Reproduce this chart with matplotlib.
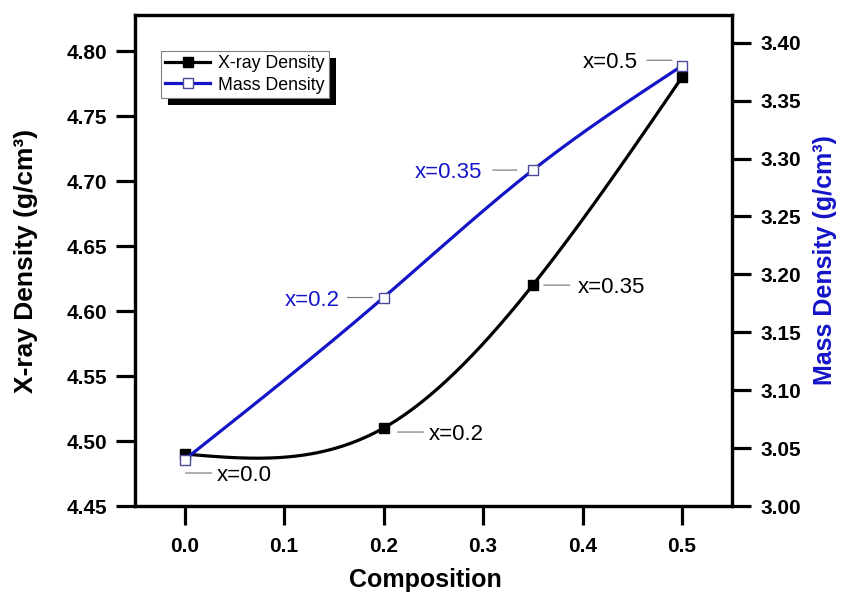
import numpy as np
import matplotlib
matplotlib.use('Agg')
import matplotlib.pyplot as plt
from matplotlib.lines import Line2D
from matplotlib.patches import Rectangle
from matplotlib.transforms import offset_copy

plt.rcParams['font.family'] = 'Liberation Sans'

# data
composition = [0.0, 0.2, 0.35, 0.5]
xray_density = [4.49, 4.51, 4.62, 4.78]
mass_density = [3.04, 3.18, 3.29, 3.38]
labels = ['x=0.0', 'x=0.2', 'x=0.35', 'x=0.5']

xticks = [0.0, 0.1, 0.2, 0.3, 0.4, 0.5]
left_ticks = [4.45, 4.50, 4.55, 4.60, 4.65, 4.70, 4.75, 4.80]
right_ticks = [3.00, 3.05, 3.10, 3.15, 3.20, 3.25, 3.30, 3.35, 3.40]

BLUE = '#1414C8'


def natural_spline(x, y, num=300):
    # smooth connecting curve through the points (like Origin's spline line)
    x = np.asarray(x, float)
    y = np.asarray(y, float)
    n = len(x)
    h = np.diff(x)
    A = np.zeros((n, n))
    r = np.zeros(n)
    A[0, 0] = A[-1, -1] = 1
    for i in range(1, n - 1):
        A[i, i - 1] = h[i - 1]
        A[i, i] = 2 * (h[i - 1] + h[i])
        A[i, i + 1] = h[i]
        r[i] = 6 * ((y[i + 1] - y[i]) / h[i] - (y[i] - y[i - 1]) / h[i - 1])
    M = np.linalg.solve(A, r)
    xs = np.linspace(x[0], x[-1], num)
    idx = np.clip(np.searchsorted(x, xs) - 1, 0, n - 2)
    x0, x1 = x[idx], x[idx + 1]
    hh = x1 - x0
    t0 = x1 - xs
    t1 = xs - x0
    ys = (M[idx] * t0**3 + M[idx + 1] * t1**3) / (6 * hh) \
        + (y[idx] / hh - M[idx] * hh / 6) * t0 \
        + (y[idx + 1] / hh - M[idx + 1] * hh / 6) * t1
    return xs, ys


fig = plt.figure(figsize=(8.43, 5.96), dpi=100)
ax = fig.add_axes([0.160, 0.151, 0.708, 0.824])
ax2 = ax.twinx()

# curves
xs, ys = natural_spline(composition, xray_density)
ax.plot(xs, ys, color='black', lw=2.3, zorder=2)
ax.plot(composition, xray_density, ls='none', marker='s', ms=6.5,
        mfc='black', mec='black', zorder=3)

xs, ys = natural_spline(composition, mass_density)
ax2.plot(xs, ys, color=BLUE, lw=2.3, zorder=2)
ax2.plot(composition, mass_density, ls='none', marker='s', ms=6.5,
         mfc='white', mec='#4A4A9A', mew=1.0, zorder=3)

ax.set_xlim(-0.05, 0.55)
ax.set_ylim(4.45, 4.828)
ax2.set_ylim(3.00, 3.424)

ax.set_xticks(xticks)
ax.set_xticklabels([f'{v:.1f}' for v in xticks])
ax.set_yticks(left_ticks)
ax.set_yticklabels([f'{v:.2f}' for v in left_ticks])
ax2.set_yticks(right_ticks)
ax2.set_yticklabels([f'{v:.2f}' for v in right_ticks])

for a in (ax, ax2):
    for s in a.spines.values():
        s.set_linewidth(2.3)
    a.tick_params(direction='out', length=14, width=2.3, labelsize=15)
    for lab in a.get_xticklabels() + a.get_yticklabels():
        lab.set_fontweight('bold')
ax.tick_params(axis='x', pad=8)
ax.tick_params(axis='y', pad=6)
ax2.tick_params(axis='y', pad=7)

ax.set_xlabel('Composition', fontsize=18, fontweight='bold')
ax.set_ylabel('X-ray Density (g/cm³)', fontsize=19, fontweight='bold')
ax2.set_ylabel('Mass Density (g/cm³)', fontsize=18, fontweight='bold', color=BLUE)
ax.xaxis.set_label_coords(0.487, -0.127)
ax.yaxis.set_label_coords(-0.163, 0.5)
ax2.yaxis.set_label_coords(1.137, 0.5)


# point label: short grey leader line plus text, offset in pixels from the point
def point_label(a, i, yvals, lx0, lx1, dy, tx, ha, color):
    x, y = composition[i], yvals[i]
    t0 = offset_copy(a.transData, fig=fig, x=lx0, y=dy, units='dots')
    t1 = offset_copy(a.transData, fig=fig, x=lx1, y=dy, units='dots')
    a.annotate('', xy=(x, y), xycoords=t0, xytext=(x, y), textcoords=t1,
               arrowprops=dict(arrowstyle='-', color='#808080', lw=0.9,
                               shrinkA=0, shrinkB=0))
    tt = offset_copy(a.transData, fig=fig, x=tx, y=dy, units='dots')
    a.text(x, y, labels[i], transform=tt, ha=ha, va='center_baseline',
           fontsize=16, color=color)


point_label(ax, 0, xray_density, 1, 27, -19, 32, 'left', 'black')
point_label(ax, 1, xray_density, 14, 40, -4, 45, 'left', 'black')
point_label(ax, 2, xray_density, 11, 37, 0, 45, 'left', 'black')
point_label(ax, 3, xray_density, -35, -10, 17, -44, 'right', 'black')
point_label(ax2, 1, mass_density, -36, -11, 0, -44, 'right', BLUE)
point_label(ax2, 2, mass_density, -40, -16, 0, -51, 'right', BLUE)

# legend with a solid black drop shadow
handles = [
    Line2D([], [], color='black', lw=2.3, marker='s', ms=6.5, mfc='black', mec='black'),
    Line2D([], [], color=BLUE, lw=2.3, marker='s', ms=6.5, mfc='white', mec='#4A4A9A'),
]
leg = ax2.legend(handles, ['X-ray Density', 'Mass Density'], loc='upper left',
                 bbox_to_anchor=(0.0436, 0.927), borderaxespad=0, fontsize=12.8,
                 handlelength=2.5, handletextpad=0.45, labelspacing=0.25,
                 borderpad=0.25, fancybox=False, framealpha=1)
leg.get_frame().set_edgecolor('#7F7F7F')
leg.get_frame().set_linewidth(0.8)
leg.set_zorder(6)

fig.canvas.draw()
bb = leg.get_window_extent().transformed(ax2.transAxes.inverted())
dx = 7 / (ax2.bbox.width)
dy = 7 / (ax2.bbox.height)
ax2.add_patch(Rectangle((bb.x0 + dx, bb.y0 - dy), bb.width, bb.height,
                        transform=ax2.transAxes, facecolor='black',
                        edgecolor='none', zorder=5, clip_on=False))

fig.savefig('out.png', dpi=100)
